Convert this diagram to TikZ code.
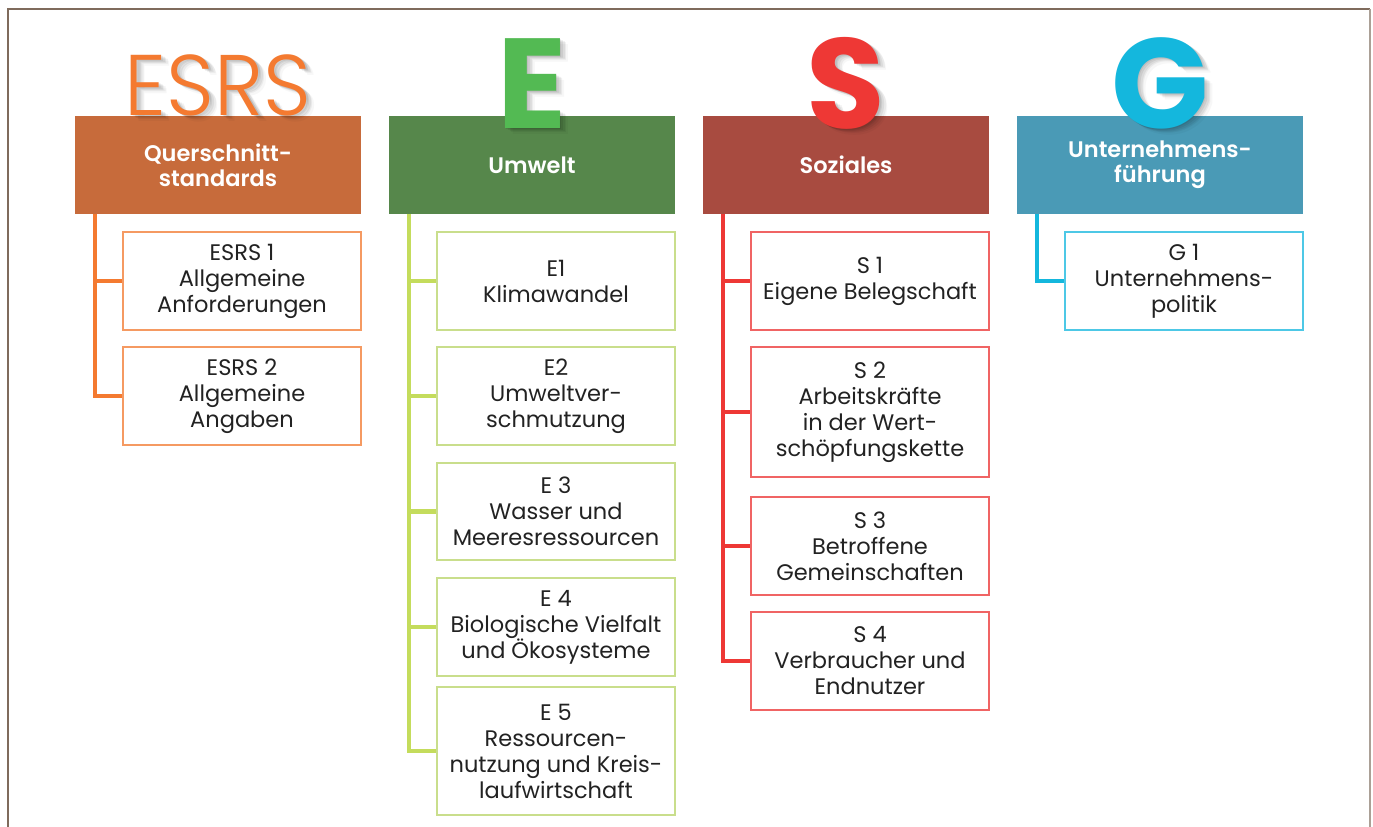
\documentclass[tikz,border=0pt]{standalone}
\usepackage{fontspec}
\setmainfont{Poppins}
\newfontfamily\poplight{Poppins Light}
\newfontfamily\popsemi{Poppins SemiBold}
\definecolor{frameA}{HTML}{7F6B5C}
\definecolor{frameB}{HTML}{ABA096}
\definecolor{hOr}{HTML}{C76B3B}
\definecolor{hGr}{HTML}{56874B}
\definecolor{hRd}{HTML}{A84B40}
\definecolor{hCy}{HTML}{4A9AB6}
\definecolor{lOr}{HTML}{F47A30}
\definecolor{lGr}{HTML}{53BA53}
\definecolor{lRd}{HTML}{EE3835}
\definecolor{lCy}{HTML}{14B7DD}
\definecolor{cOr}{HTML}{F47A30}
\definecolor{cGr}{HTML}{C4DC5C}
\definecolor{cRd}{HTML}{EE3835}
\definecolor{cCy}{HTML}{14B7DD}
\definecolor{bOr}{HTML}{F59A62}
\definecolor{bGr}{HTML}{C9DE8C}
\definecolor{bRd}{HTML}{F06464}
\definecolor{bCy}{HTML}{4DC8E6}
\definecolor{txt}{HTML}{222222}
\tikzset{
  head/.style={fill=#1, draw=none, minimum width=286pt, minimum height=98pt, inner sep=0pt,
    text=white, align=center, font=\popsemi\fontsize{22.5}{25}\selectfont},
  sub/.style={draw=#1, line width=1.3pt, fill=white, minimum width=238pt, inner sep=0pt,
    text=txt, align=center, font=\fontsize{22.5}{26}\selectfont},
  conn/.style={draw=#1, line width=4.5pt},
  bigletter/.style={anchor=base, inner sep=0pt, text=#1},
}
\newcommand{\shadowletter}[4]{%
  \foreach \d/\o in {2/0.07,4/0.07,6/0.06,8/0.05,10/0.03}{
    \node[anchor=base, inner sep=0pt, text=black, opacity=\o, font=#3] at ([xshift=0.8*\d pt, yshift=-0.6*\d pt]#1) {#4};
  }
  \node[bigletter=#2, font=#3] at (#1) {#4};
}
\begin{document}
\begin{tikzpicture}[x=1pt, y=-1pt]
\useasboundingbox (0,0) rectangle (1373,827);
\fill[white] (0,0) rectangle (1373,827);
% frame
\draw[frameA, line width=1.6pt] (8,827) -- (8,9) -- (1370,9);
\draw[frameB, line width=1.6pt] (1370,9) -- (1370,827);

% headers
\node[head=hOr] (h1) at (218,165) {Querschnitt-\\standards};
\node[head=hGr] (h2) at (532,165) {Umwelt};
\node[head=hRd] (h3) at (846,165) {Soziales};
\node[head=hCy] (h4) at (1160,165) {Unternehmens-\\führung};

% big letters
\coordinate (L1) at (218,115);
\coordinate (L2) at (532,128);
\coordinate (L3) at (846,128);
\coordinate (L4) at (1160,128);
\shadowletter{L1}{lOr}{\poplight\fontsize{86}{86}\selectfont}{\scalebox{0.97}[1]{ESRS}}
\shadowletter{L2}{lGr}{\bfseries\fontsize{128}{128}\selectfont}{E}
\shadowletter{L3}{lRd}{\bfseries\fontsize{128}{128}\selectfont}{S}
\shadowletter{L4}{lCy}{\bfseries\fontsize{128}{128}\selectfont}{G}

% column 1
\node[sub=bOr, minimum height=98pt] (a1) at (242,281) {ESRS 1\\Allgemeine\\Anforderungen};
\node[sub=bOr, minimum height=98pt] (a2) at (242,396) {ESRS 2\\Allgemeine\\Angaben};
% column 2
\node[sub=bGr, minimum height=98pt] (e1) at (556,281) {E1\\Klimawandel};
\node[sub=bGr, minimum height=98pt] (e2) at (556,396) {E2\\Umweltver-\\schmutzung};
\node[sub=bGr, minimum height=97pt] (e3) at (556,511.5) {E 3\\Wasser und\\Meeresressourcen};
\node[sub=bGr, minimum height=98pt] (e4) at (556,627) {E 4\\Biologische Vielfalt\\und Ökosysteme};
\node[sub=bGr, minimum height=128pt] (e5) at (556,751) {E 5\\Ressourcen-\\nutzung und Kreis-\\laufwirtschaft};
% column 3
\node[sub=bRd, minimum height=98pt] (s1) at (870,281) {S 1\\Eigene Belegschaft};
\node[sub=bRd, minimum height=130pt] (s2) at (870,412) {S 2\\Arbeitskräfte\\in der Wert-\\schöpfungskette};
\node[sub=bRd, minimum height=98pt] (s3) at (870,546) {S 3\\Betroffene\\Gemeinschaften};
\node[sub=bRd, minimum height=98pt] (s4) at (870,661) {S 4\\Verbraucher und\\Endnutzer};
% column 4
\node[sub=bCy, minimum height=98pt] (g1) at (1184,281) {G 1\\Unternehmens-\\politik};

% connectors
\path (h1.south west) ++(20,0) coordinate (t1);
\path (h2.south west) ++(20,0) coordinate (t2);
\path (h3.south west) ++(20,0) coordinate (t3);
\path (h4.south west) ++(20,0) coordinate (t4);
\foreach \b in {a1,a2}{\draw[conn=cOr] (t1) |- (\b.west);}
\foreach \b in {e1,e2,e3,e4,e5}{\draw[conn=cGr] (t2) |- (\b.west);}
\foreach \b in {s1,s2,s3,s4}{\draw[conn=cRd] (t3) |- (\b.west);}
\draw[conn=cCy] (t4) |- (g1.west);
\end{tikzpicture}
\end{document}
